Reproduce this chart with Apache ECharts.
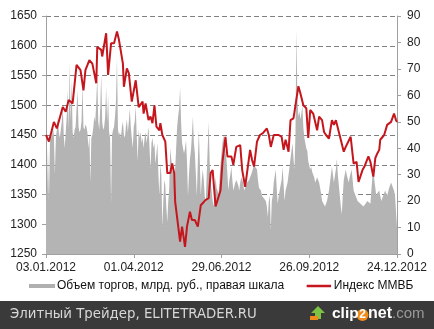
<!DOCTYPE html>
<html><head><meta charset="utf-8">
<script src="https://cdn.jsdelivr.net/npm/echarts@6/dist/echarts.min.js"></script>
<style>html,body{margin:0;padding:0;background:#fff}#c{width:434px;height:329px}</style>
</head><body><div id="c"></div>
<script>
// x values are day offsets from 03.01.2012
var tickLabels = ['03.01.2012','01.04.2012','29.06.2012','26.09.2012','24.12.2012'];
var idxDays = [0,3,8,11,17,20,23,27,31,35,38,40,44,47,51,52,56,57,61,63,66,69,72,74,78,79,82,84,87,91,94,98,99,101,104,106,108,110,112,115,116,118,121,123,126,128,130,131,133,136,138,139,141,143,146,148,151,154,157,162,165,167,169,172,175,177,179,182,184,188,190,193,197,199,202,207,209,211,214,217,220,224,226,228,231,236,239,241,243,246,248,251,253,256,258,261,264,266,268,271,275,277,280,282,284,287,290,292,294,297,299,302,304,309,312,315,317,321,323,327,329,332,334,336,338,339,343,346,350,353,355,356];
var idxValues = [1450,1439,1472,1461,1497,1489,1509,1503,1568,1559,1525,1559,1576,1570,1537,1598,1593,1582,1621,1551,1604,1604,1624,1610,1570,1531,1562,1554,1506,1542,1497,1506,1486,1503,1475,1481,1470,1500,1464,1458,1470,1450,1439,1386,1386,1402,1386,1338,1335,1271,1296,1296,1262,1296,1321,1307,1307,1296,1332,1341,1344,1386,1391,1330,1346,1357,1405,1447,1414,1414,1400,1430,1433,1391,1363,1425,1408,1397,1439,1450,1453,1461,1450,1430,1450,1450,1447,1425,1442,1422,1475,1478,1478,1532,1520,1500,1495,1445,1492,1486,1458,1481,1475,1455,1450,1444,1475,1467,1475,1455,1442,1422,1430,1447,1402,1405,1371,1391,1397,1414,1405,1380,1411,1419,1425,1442,1450,1467,1472,1486,1475,1472];
var volDays = [0,1,2,3,4,5,6,7,8,9,10,11,12,13,14,15,16,17,18,19,20,21,22,23,24,25,26,27,28,29,30,31,32,33,34,35,36,37,38,39,40,41,42,43,44,45,46,47,48,49,50,51,52,53,54,55,56,57,58,59,60,61,62,63,64,65,66,67,68,69,70,71,72,73,74,75,76,77,78,79,80,81,82,83,84,85,86,87,88,89,90,91,92,93,94,95,96,97,98,99,100,101,102,103,104,105,106,107,108,109,110,111,112,113,114,115,116,117,118,119,120,121,122,123,124,125,126,127,128,129,130,131,132,133,134,135,136,137,138,139,140,141,142,143,144,145,146,147,148,149,150,151,152,153,154,155,156,157,158,159,160,161,162,163,164,165,166,167,168,169,170,171,172,173,174,175,176,177,178,179,180,181,182,183,184,185,186,187,188,189,190,192,193,195,196,197,198,200,201,203,204,206,207,209,211,212,214,215,216,218,219,221,223,224,225,226,227,228,229,230,231,233,234,235,236,237,239,240,241,242,243,245,246,247,248,250,251,252,253,254,255,256,257,258,259,260,261,262,264,265,266,268,269,270,272,273,274,275,276,277,279,280,282,283,284,285,287,288,289,290,291,292,294,295,296,297,298,299,300,301,302,304,305,307,308,310,311,312,314,316,317,319,320,322,324,326,328,329,330,332,333,335,336,338,339,340,342,344,345,346,348,350,351,352,353,354,355,356];
var volValues = [25,22,40,20,42,46,44,48,45,30,44,47,52,46,44,47,50,56,45,40,46,52,62,47,72,50,66,46,44,47,48,55,62,48,46,47,50,64,48,47,49,48,46,40,45,27,44,45,48,52,50,58,67,50,47,55,68,50,47,48,52,63,50,60,46,44,19,45,47,48,52,58,74,47,45,46,44,48,50,45,44,48,51,46,50,55,48,44,40,48,50,56,45,35,47,44,46,42,44,40,44,46,42,45,48,40,32,42,44,40,42,34,38,42,30,22,34,30,10,20,28,26,18,12,20,25,40,36,33,30,27,32,40,48,52,55,63,50,42,40,38,40,43,35,22,30,36,39,45,52,42,38,30,22,35,47,35,22,28,32,28,22,19,30,40,50,35,27,24,20,18,24,29,25,24,22,28,34,38,42,45,40,39,36,30,24,28,30,33,28,24,27,28,26,24,27,29,27,24,26,27,28,29,31,34,33,32,28,25,24,22,22,20,18,14,20,22,9,20,22,27,32,25,19,22,22,28,33,26,20,24,27,30,33,36,42,36,32,45,85,58,52,54,51,53,56,48,44,40,39,35,32,33,31,29,27,28,29,28,27,23,20,20,18,19,20,24,27,30,33,30,27,32,36,30,26,22,18,15,22,28,32,30,27,29,32,28,24,22,20,20,19,19,18,19,20,20,19,24,34,28,22,23,24,22,20,22,24,23,22,25,27,26,25,24,22,16,10];
var volName = 'Объем торгов, млрд. руб., правая шкала';
var idxName = 'Индекс ММВБ';

function zip(a,b){var r=[];for(var i=0;i<a.length;i++)r.push([a[i],b[i]]);return r;}
var chart = echarts.init(document.getElementById('c'), null, {renderer:'canvas'});
var F = 'Liberation Sans, Arial, sans-serif';
var axisGrey = '#a0a0a0';
chart.setOption({
  animation:false,
  backgroundColor:'#fff',
  grid:{left:46,right:37,top:16,bottom:75},
  xAxis:{type:'value',min:0,max:356,interval:89,
    axisLine:{show:true,lineStyle:{color:axisGrey}},
    axisTick:{show:true,length:4,lineStyle:{color:axisGrey}},
    splitLine:{show:false},
    axisLabel:{color:'#222',fontSize:12,fontFamily:F,margin:8,showMinLabel:true,showMaxLabel:true,
      formatter:function(v){return tickLabels[Math.round(v/89)]||'';}}
  },
  yAxis:[
    {type:'value',min:1250,max:1650,interval:50,position:'left',
     axisLine:{show:true,lineStyle:{color:axisGrey}},
     axisTick:{show:true,length:4,lineStyle:{color:axisGrey}},
     splitLine:{show:true,lineStyle:{color:'#808080',type:[5,3],width:1}},
     axisLabel:{color:'#222',fontSize:12,fontFamily:F,margin:9,formatter:function(v){return String(v);}}},
    {type:'value',min:0,max:90,interval:10,position:'right',
     axisLine:{show:true,lineStyle:{color:axisGrey}},
     axisTick:{show:true,length:4,lineStyle:{color:axisGrey}},
     splitLine:{show:false},
     axisLabel:{color:'#222',fontSize:12,fontFamily:F,margin:10,formatter:function(v){return String(v);}}}
  ],
  legend:{left:29,top:280,padding:0,itemGap:21,itemWidth:26,itemHeight:4,
    textStyle:{color:'#111',fontSize:12,fontFamily:F,padding:[0,0,0,-3]},
    data:[{name:volName,icon:'rect',itemStyle:{color:'#b0b0b0'}},
          {name:idxName,icon:'rect',itemStyle:{color:'#c4161c',borderColor:'#fff',borderWidth:1.6}}]},
  series:[
    {name:volName,type:'line',yAxisIndex:1,showSymbol:false,symbol:'none',
     data:zip(volDays,volValues),
     lineStyle:{width:0,color:'#b4b4b4'},itemStyle:{color:'#b4b4b4'},
     areaStyle:{color:'#b4b4b4',opacity:1}, z:1},
    {name:idxName,type:'line',yAxisIndex:0,showSymbol:false,symbol:'none',
     data:zip(idxDays,idxValues),
     lineStyle:{width:2,color:'#c4161c'},itemStyle:{color:'#c4161c'}, z:3}
  ],
  graphic:[
    {type:'rect',left:0,top:301,shape:{width:434,height:28},style:{fill:'#3a3a3a'},z:10},
    {type:'text',z:11,style:{x:10,y:315,textVerticalAlign:'middle',text:'Элитный Трейдер, ELITETRADER.RU',fill:'#d8d8d8',font:'13.3px DejaVu Sans, sans-serif'}},
    {type:'polygon',z:11,shape:{points:[[318,306],[325,313],[321,313],[321,319],[315,319],[315,313],[311,313]]},style:{fill:'#7cc243'}},
    {type:'rect',z:11,shape:{x:310,y:316,width:8,height:4},style:{fill:'#f08a1c'}},
    {type:'text',z:12,style:{x:332,y:314,textVerticalAlign:'middle',text:'clip',fill:'#fff',font:'bold 15.5px Liberation Sans, Arial'}},
    {type:'circle',z:11,shape:{cx:362.5,cy:315,r:6},style:{fill:'#f08a1c'}},
    {type:'text',z:12,style:{x:362.5,y:315,textAlign:'center',textVerticalAlign:'middle',text:'2',fill:'#fff',font:'bold 12px Liberation Sans, Arial'}},
    {type:'text',z:12,style:{x:368,y:314,textVerticalAlign:'middle',text:'net',fill:'#fff',font:'bold 16px Liberation Sans, Arial'}},
    {type:'text',z:12,style:{x:392,y:314,textVerticalAlign:'middle',text:'.com',fill:'#9a9a9a',font:'15px Liberation Sans, Arial'}}
  ]
});
</script></body></html>
